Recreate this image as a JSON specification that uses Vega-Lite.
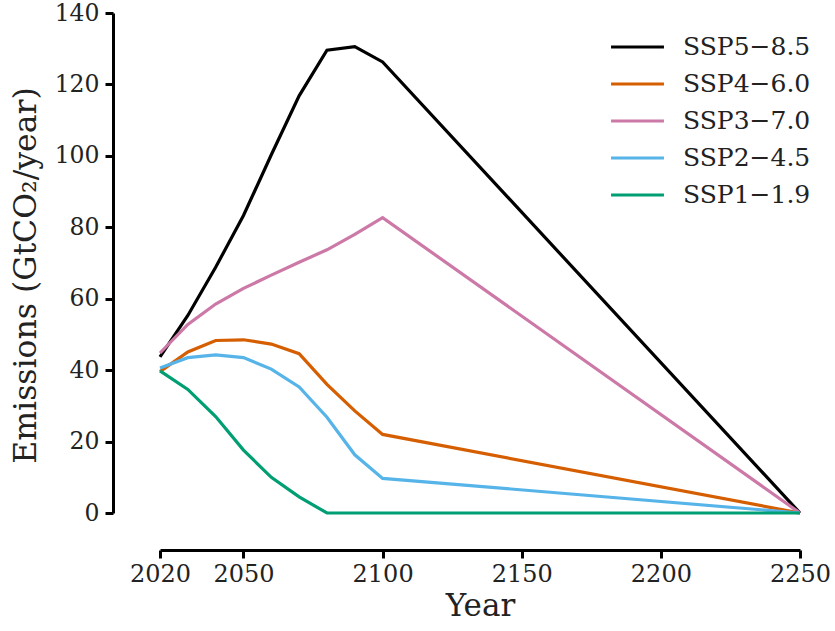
{
  "$schema": "https://vega.github.io/schema/vega-lite/v6.json",
  "width": 640,
  "height": 500,
  "autosize": {"type": "none"},
  "padding": {"left": 160, "top": 13, "right": 35, "bottom": 118},
  "background": "white",
  "config": {"view": {"stroke": null}, "font": "DejaVu Serif"},
  "data": {
    "values": [
      {"scenario": "SSP5−8.5", "year": 2020, "value": 43.7},
      {"scenario": "SSP5−8.5", "year": 2030, "value": 55.3},
      {"scenario": "SSP5−8.5", "year": 2040, "value": 68.8},
      {"scenario": "SSP5−8.5", "year": 2050, "value": 83.3},
      {"scenario": "SSP5−8.5", "year": 2060, "value": 100.3},
      {"scenario": "SSP5−8.5", "year": 2070, "value": 116.8},
      {"scenario": "SSP5−8.5", "year": 2080, "value": 129.6},
      {"scenario": "SSP5−8.5", "year": 2090, "value": 130.6},
      {"scenario": "SSP5−8.5", "year": 2100, "value": 126.3},
      {"scenario": "SSP5−8.5", "year": 2250, "value": 0},
      {"scenario": "SSP4−6.0", "year": 2020, "value": 39.6},
      {"scenario": "SSP4−6.0", "year": 2030, "value": 45.1},
      {"scenario": "SSP4−6.0", "year": 2040, "value": 48.3},
      {"scenario": "SSP4−6.0", "year": 2050, "value": 48.5},
      {"scenario": "SSP4−6.0", "year": 2060, "value": 47.3},
      {"scenario": "SSP4−6.0", "year": 2070, "value": 44.6},
      {"scenario": "SSP4−6.0", "year": 2080, "value": 36.0},
      {"scenario": "SSP4−6.0", "year": 2090, "value": 28.6},
      {"scenario": "SSP4−6.0", "year": 2100, "value": 22.0},
      {"scenario": "SSP4−6.0", "year": 2250, "value": 0},
      {"scenario": "SSP3−7.0", "year": 2020, "value": 44.8},
      {"scenario": "SSP3−7.0", "year": 2030, "value": 52.8},
      {"scenario": "SSP3−7.0", "year": 2040, "value": 58.5},
      {"scenario": "SSP3−7.0", "year": 2050, "value": 62.9},
      {"scenario": "SSP3−7.0", "year": 2060, "value": 66.6},
      {"scenario": "SSP3−7.0", "year": 2070, "value": 70.2},
      {"scenario": "SSP3−7.0", "year": 2080, "value": 73.7},
      {"scenario": "SSP3−7.0", "year": 2090, "value": 78.0},
      {"scenario": "SSP3−7.0", "year": 2100, "value": 82.7},
      {"scenario": "SSP3−7.0", "year": 2250, "value": 0},
      {"scenario": "SSP2−4.5", "year": 2020, "value": 40.6},
      {"scenario": "SSP2−4.5", "year": 2030, "value": 43.5},
      {"scenario": "SSP2−4.5", "year": 2040, "value": 44.3},
      {"scenario": "SSP2−4.5", "year": 2050, "value": 43.5},
      {"scenario": "SSP2−4.5", "year": 2060, "value": 40.3},
      {"scenario": "SSP2−4.5", "year": 2070, "value": 35.3},
      {"scenario": "SSP2−4.5", "year": 2080, "value": 26.8},
      {"scenario": "SSP2−4.5", "year": 2090, "value": 16.3},
      {"scenario": "SSP2−4.5", "year": 2100, "value": 9.7},
      {"scenario": "SSP2−4.5", "year": 2250, "value": 0},
      {"scenario": "SSP1−1.9", "year": 2020, "value": 39.8},
      {"scenario": "SSP1−1.9", "year": 2030, "value": 34.6},
      {"scenario": "SSP1−1.9", "year": 2040, "value": 27.0},
      {"scenario": "SSP1−1.9", "year": 2050, "value": 17.6},
      {"scenario": "SSP1−1.9", "year": 2060, "value": 10.0},
      {"scenario": "SSP1−1.9", "year": 2070, "value": 4.5},
      {"scenario": "SSP1−1.9", "year": 2080, "value": 0},
      {"scenario": "SSP1−1.9", "year": 2090, "value": 0},
      {"scenario": "SSP1−1.9", "year": 2100, "value": 0},
      {"scenario": "SSP1−1.9", "year": 2250, "value": 0}
    ]
  },
  "mark": {"type": "line", "strokeWidth": 3.2, "clip": false},
  "encoding": {
    "x": {
      "field": "year",
      "type": "quantitative",
      "scale": {"domain": [2020, 2250], "nice": false, "zero": false},
      "axis": {
        "title": "Year",
        "values": [2020, 2050, 2100, 2150, 2200, 2250],
        "format": "d",
        "offset": 37,
        "grid": false,
        "labelOverlap": false,
        "labelFlush": false,
        "domainWidth": 3,
        "domainColor": "black",
        "tickWidth": 3,
        "tickColor": "black",
        "tickSize": 8,
        "labelFontSize": 24,
        "labelColor": "#222",
        "labelPadding": 4,
        "labelFont": "DejaVu Serif",
        "titleFont": "DejaVu Serif",
        "titleFontSize": 31,
        "titleFontWeight": "normal",
        "titleColor": "#222",
        "titlePadding": 5
      }
    },
    "y": {
      "field": "value",
      "type": "quantitative",
      "scale": {"domain": [0, 140], "nice": false},
      "axis": {
        "title": "Emissions (GtCO₂/year)",
        "values": [0, 20, 40, 60, 80, 100, 120, 140],
        "offset": 47,
        "grid": false,
        "labelOverlap": false,
        "labelFlush": false,
        "domainWidth": 3,
        "domainColor": "black",
        "tickWidth": 3,
        "tickColor": "black",
        "tickSize": 8,
        "labelFontSize": 23.5,
        "labelColor": "#222",
        "labelPadding": 6,
        "labelFont": "DejaVu Serif",
        "titleFont": "DejaVu Serif",
        "titleFontSize": 31.5,
        "titleFontWeight": "normal",
        "titleColor": "#222",
        "titlePadding": 12,
        "titleY": 262
      }
    },
    "color": {
      "field": "scenario",
      "type": "nominal",
      "scale": {
        "domain": ["SSP5−8.5", "SSP4−6.0", "SSP3−7.0", "SSP2−4.5", "SSP1−1.9"],
        "range": ["#000000", "#d55e00", "#cc79a7", "#56b4e9", "#009e73"]
      },
      "legend": {
        "title": null,
        "orient": "none",
        "legendX": 465,
        "legendY": 21.5,
        "padding": 0,
        "symbolType": "M-5,0H5",
        "symbolSize": 112,
        "symbolStrokeWidth": 3.2,
        "labelOffset": 33,
        "labelFontSize": 25,
        "labelFont": "DejaVu Serif",
        "labelColor": "#222",
        "rowPadding": 11
      }
    }
  }
}
